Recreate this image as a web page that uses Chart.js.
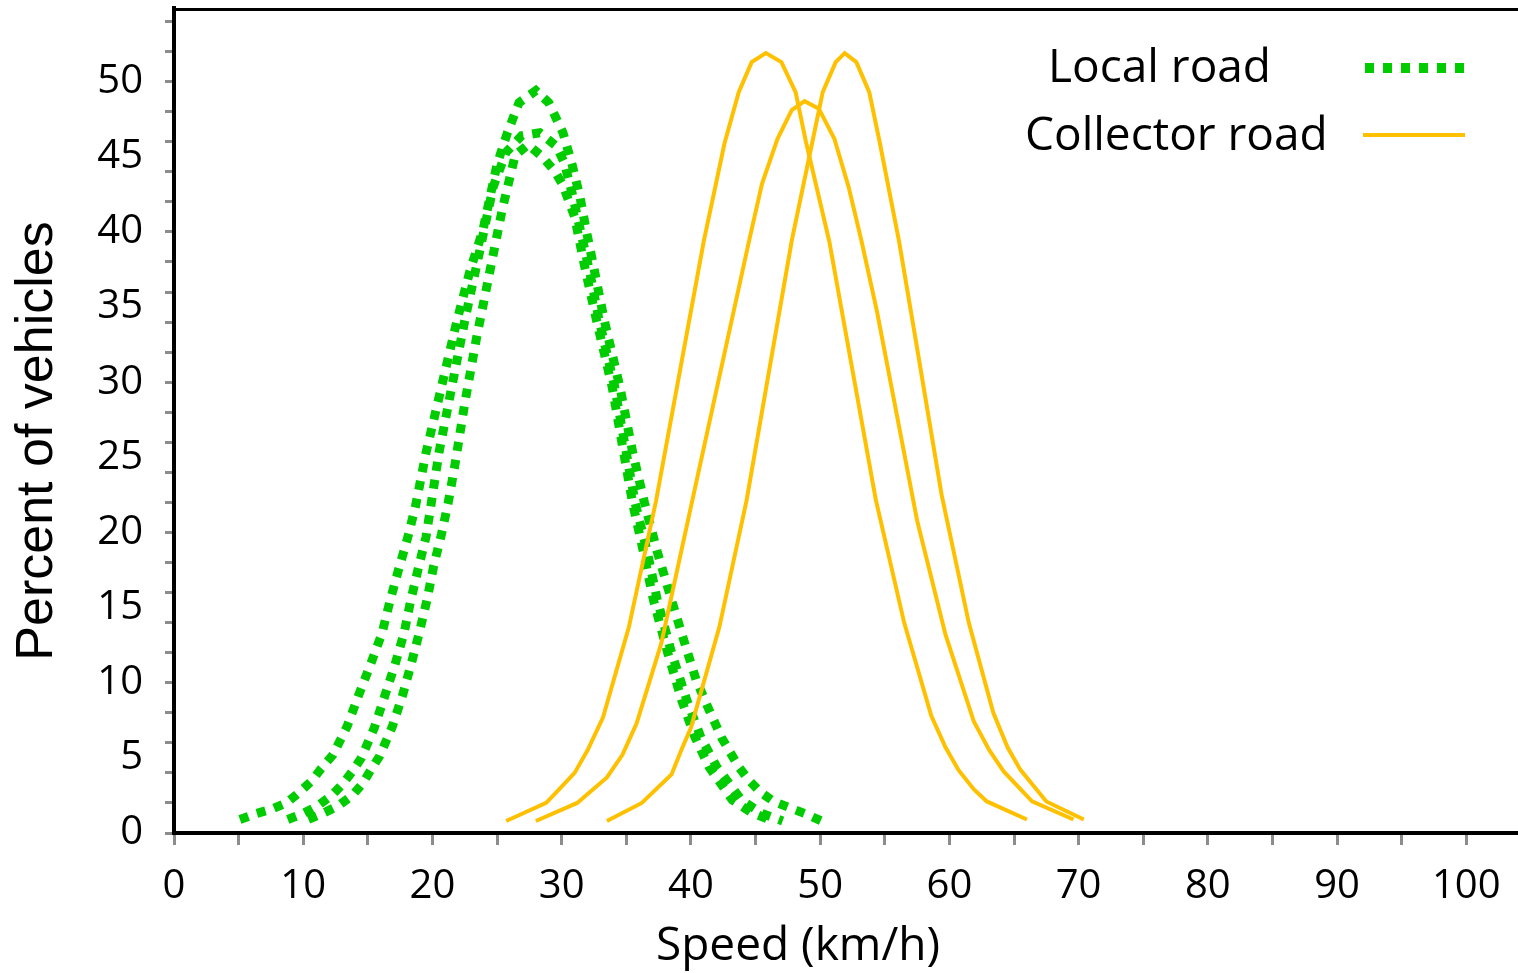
<!DOCTYPE html>
<html>
<head>
<meta charset="utf-8">
<script src="https://cdn.jsdelivr.net/npm/chart.js@4.4.1/dist/chart.umd.min.js"></script>
<style>
  html, body { margin: 0; padding: 0; background: #fff; }
  canvas { display: block; }
</style>
</head>
<body>
<canvas id="chart" width="1518" height="973"></canvas>
<script>
// Local road: three speed profiles (speed km/h, percent of vehicles)
const localSpeedA = [5.1, 6.4, 7.6, 8.7, 9.7, 10.7, 11.4, 12.3, 13.4, 14.3, 15.2, 16.1, 16.7, 17.4, 18.1, 18.7, 19.5, 20.7, 21.9, 22.9, 23.9, 25.0, 25.8, 26.7, 28.0, 29.0, 30.1, 30.8, 31.4, 31.9, 32.4, 33.3, 34.5, 35.5, 36.4, 37.4, 38.5, 39.6, 40.4, 41.4, 42.4, 43.7, 44.5, 45.4, 46.4, 47.6, 48.8, 50.1];
const localPctA = [0.9, 1.3, 1.6, 2.0, 2.7, 3.5, 4.3, 5.2, 7.1, 9.2, 11.2, 13.3, 15.4, 17.6, 19.7, 21.8, 25.3, 29.7, 34.1, 37.4, 40.1, 44.5, 46.6, 48.6, 49.4, 48.6, 46.6, 44.5, 42.4, 40.1, 38.0, 34.1, 29.7, 25.3, 22.0, 18.7, 15.5, 12.4, 10.2, 8.2, 6.3, 4.4, 3.5, 2.7, 2.1, 1.7, 1.3, 0.8];

const localSpeedB = [8.8, 10.0, 11.1, 12.2, 13.1, 13.8, 14.5, 15.5, 16.3, 17.1, 17.8, 18.3, 18.9, 19.5, 19.9, 20.5, 21.5, 22.5, 23.6, 24.7, 25.7, 26.9, 28.3, 29.6, 30.2, 30.8, 31.4, 32.2, 32.9, 34.1, 35.0, 35.7, 36.6, 37.4, 38.5, 39.7, 40.8, 42.0, 43.9, 45.5, 47.1];
const localPctB = [0.9, 1.3, 1.8, 2.5, 3.3, 4.1, 5.0, 7.0, 9.1, 11.2, 13.3, 15.4, 17.6, 19.7, 21.9, 25.3, 29.7, 34.1, 38.5, 43.0, 45.3, 46.4, 46.6, 45.7, 44.6, 42.6, 40.3, 37.2, 34.1, 29.7, 25.3, 21.9, 18.8, 15.5, 12.0, 8.8, 6.3, 4.4, 2.2, 1.3, 0.8];

const localSpeedC = [10.4, 11.5, 12.7, 13.8, 14.6, 15.3, 15.9, 16.9, 17.7, 18.4, 19.0, 19.6, 20.1, 20.7, 21.2, 21.7, 22.5, 23.4, 24.4, 25.4, 26.4, 27.4, 28.5, 29.5, 30.1, 31.0, 31.8, 32.7, 33.9, 34.8, 35.5, 36.3, 37.1, 38.2, 39.3, 40.3, 41.4, 43.2, 44.6, 46.3];
const localPctC = [0.9, 1.3, 1.8, 2.5, 3.3, 4.3, 5.1, 7.1, 9.2, 11.4, 13.4, 15.6, 17.8, 19.9, 21.9, 24.3, 28.6, 32.9, 37.2, 41.5, 45.1, 45.8, 45.0, 44.0, 43.1, 41.0, 37.6, 34.1, 29.7, 25.3, 21.9, 18.8, 15.5, 12.0, 8.8, 6.4, 4.4, 2.2, 1.4, 0.8];

// Collector road: three speed profiles
const collectorSpeedA = [25.7, 28.8, 29.8, 31.0, 32.0, 33.2, 35.2, 37.3, 41.0, 42.6, 43.7, 44.7, 45.8, 47.0, 48.1, 48.9, 50.7, 54.3, 56.5, 58.6, 59.7, 60.7, 61.9, 62.9, 66.0];
const collectorPctA = [0.8, 2.0, 2.9, 4.0, 5.5, 7.7, 13.7, 22.1, 39.4, 45.9, 49.3, 51.3, 51.9, 51.3, 49.3, 46.0, 39.4, 22.2, 14.0, 7.8, 5.7, 4.2, 2.9, 2.1, 0.9];

const collectorSpeedB = [28.0, 31.2, 33.5, 34.7, 35.8, 37.7, 40.1, 44.5, 45.5, 46.7, 47.8, 48.8, 49.9, 51.1, 52.2, 53.2, 54.4, 57.5, 59.7, 61.9, 63.1, 64.2, 66.4, 69.6];
const collectorPctB = [0.8, 2.0, 3.7, 5.2, 7.3, 12.6, 22.1, 39.4, 43.2, 46.2, 48.1, 48.7, 48.2, 46.2, 43.0, 39.4, 34.7, 20.8, 13.2, 7.4, 5.5, 4.1, 2.1, 0.9];

const collectorSpeedC = [33.5, 36.2, 38.5, 39.3, 40.0, 42.2, 44.3, 47.8, 49.4, 50.2, 51.2, 51.9, 52.8, 53.8, 54.6, 56.1, 57.3, 59.4, 61.5, 63.4, 64.5, 65.5, 67.5, 70.4];
const collectorPctC = [0.8, 2.0, 3.9, 5.6, 7.0, 13.7, 22.1, 39.4, 46.0, 49.3, 51.3, 51.9, 51.3, 49.3, 46.0, 39.4, 33.3, 22.5, 14.0, 8.0, 5.7, 4.2, 2.1, 0.9];

const seriesLabels = ['Local road', 'Collector road'];
const xTitle = 'Speed (km/h)';
const yTitle = 'Percent of vehicles';

const GREEN = '#00cc00';
const ORANGE = '#ffc000';
const TICK_GREY = '#8c8c8c';

const toPoints = (xs, ys) => xs.map((x, i) => ({ x: x, y: ys[i] }));

const localSet = (xs, ys) => ({
    label: seriesLabels[0],
    data: toPoints(xs, ys),
    borderColor: GREEN,
    borderWidth: 9,
    borderDash: [9, 9],
    borderCapStyle: 'butt',
    showLine: true,
    pointRadius: 0,
    tension: 0,
    order: 1,
});

const collectorSet = (xs, ys) => ({
    label: seriesLabels[1],
    data: toPoints(xs, ys),
    borderColor: ORANGE,
    borderWidth: 4,
    showLine: true,
    pointRadius: 0,
    tension: 0,
    order: 0,
});

// Titles, top frame line and the legend are painted on top.
const decorations = {
    id: 'decorations',
    afterDraw(chart) {
        const { ctx, chartArea } = chart;
        ctx.save();

        // top frame line
        ctx.strokeStyle = '#000';
        ctx.lineWidth = 3;
        ctx.beginPath();
        ctx.moveTo(chartArea.left - 2, chartArea.top + 1.5);
        ctx.lineTo(chart.width, chartArea.top + 1.5);
        ctx.stroke();

        ctx.fillStyle = '#000';
        ctx.textBaseline = 'middle';

        // y title
        ctx.save();
        ctx.translate(38, 441);
        ctx.rotate(-Math.PI / 2);
        ctx.textAlign = 'center';
        ctx.font = '52px "Liberation Sans", Arial, sans-serif';
        ctx.fillText(yTitle, 0, 0);
        ctx.restore();

        // x title
        ctx.textAlign = 'center';
        ctx.font = '46px "Open Sans", sans-serif';
        ctx.fillText(xTitle, 798, 947);

        // legend
        ctx.textAlign = 'left';
        ctx.font = '46px "Open Sans", sans-serif';
        ctx.fillText(seriesLabels[0], 1048, 69);
        ctx.fillText(seriesLabels[1], 1025, 137);

        ctx.strokeStyle = GREEN;
        ctx.lineWidth = 10;
        ctx.setLineDash([9, 9]);
        ctx.beginPath();
        ctx.moveTo(1365, 68);
        ctx.lineTo(1467, 68);
        ctx.stroke();

        ctx.setLineDash([]);
        ctx.strokeStyle = ORANGE;
        ctx.lineWidth = 4;
        ctx.beginPath();
        ctx.moveTo(1363, 135);
        ctx.lineTo(1465, 135);
        ctx.stroke();

        ctx.restore();
    }
};

const tickFont = { family: '"Open Sans", sans-serif', size: 40 };

new Chart(document.getElementById('chart'), {
    type: 'scatter',
    data: {
        datasets: [
            collectorSet(collectorSpeedA, collectorPctA),
            collectorSet(collectorSpeedB, collectorPctB),
            collectorSet(collectorSpeedC, collectorPctC),
            localSet(localSpeedA, localPctA),
            localSet(localSpeedB, localPctB),
            localSet(localSpeedC, localPctC),
        ]
    },
    options: {
        responsive: false,
        animation: false,
        devicePixelRatio: 1,
        layout: { padding: { top: 8, right: 0, left: 0, bottom: 0 } },
        plugins: {
            legend: { display: false },
            tooltip: { enabled: false },
        },
        scales: {
            x: {
                type: 'linear',
                position: 'bottom',
                min: 0,
                max: 104,
                afterFit: (scale) => {
                    scale.height = 140;
                    scale.paddingLeft = 0;
                    scale.paddingRight = 0;
                },
                ticks: {
                    stepSize: 5,
                    autoSkip: false,
                    includeBounds: false,
                    maxRotation: 0,
                    padding: 18,
                    color: '#000',
                    font: tickFont,
                    callback: (v) => (v % 10 === 0 ? v : ''),
                },
                grid: {
                    drawOnChartArea: false,
                    tickLength: 12,
                    tickWidth: 3,
                    tickColor: TICK_GREY,
                },
                border: { display: true, color: '#000', width: 4 },
            },
            y: {
                type: 'linear',
                min: 0,
                max: 54.9,
                afterFit: (scale) => {
                    scale.width = 174;
                    scale.paddingTop = 0;
                    scale.paddingBottom = 0;
                },
                ticks: {
                    stepSize: 1,
                    autoSkip: false,
                    includeBounds: false,
                    padding: 22,
                    color: '#000',
                    font: tickFont,
                    callback: (v) => (v % 5 === 0 ? v : ''),
                },
                grid: {
                    drawOnChartArea: false,
                    tickLength: 9,
                    tickWidth: 3,
                    tickColor: (c) => (c.tick && c.tick.value % 2 === 0 ? TICK_GREY : 'rgba(0,0,0,0)'),
                },
                border: { display: true, color: '#000', width: 4 },
            },
        },
    },
    plugins: [decorations],
});
</script>
</body>
</html>
